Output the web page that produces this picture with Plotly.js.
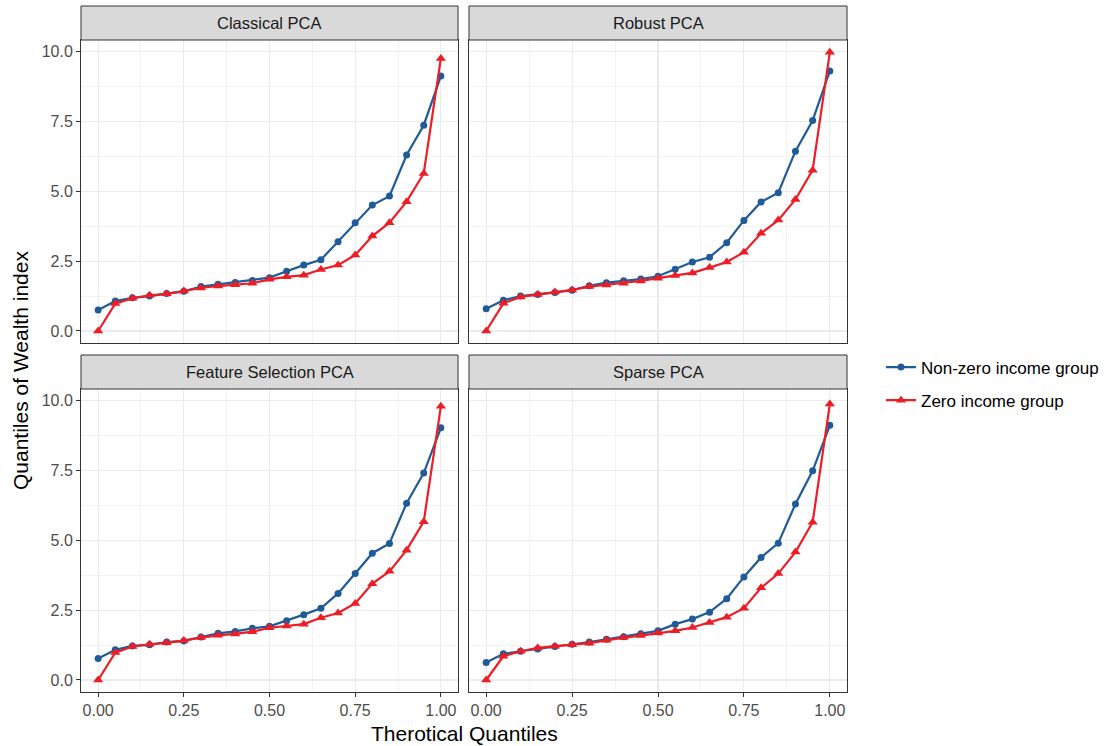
<!DOCTYPE html>
<html>
<head>
<meta charset="utf-8">
<script src="https://cdn.plot.ly/plotly-3.0.1.min.js"></script>
<style>html,body{margin:0;padding:0;background:#fff;}#chart{width:1107px;height:746px;}</style>
</head>
<body>
<div id="chart"></div>
<script>
// ---- data ----
const quantiles = [0,0.05,0.10,0.15,0.20,0.25,0.30,0.35,0.40,0.45,0.50,0.55,0.60,0.65,0.70,0.75,0.80,0.85,0.90,0.95,1.00];
const panelTitles = ["Classical PCA","Robust PCA","Feature Selection PCA","Sparse PCA"];
const seriesNames = ["Non-zero income group","Zero income group"];

const classicalNonZero = [0.75,1.07,1.19,1.25,1.34,1.42,1.59,1.67,1.74,1.81,1.91,2.14,2.36,2.55,3.20,3.88,4.51,4.83,6.30,7.37,9.13];
const classicalZero    = [0.00,0.98,1.17,1.28,1.33,1.43,1.54,1.61,1.66,1.71,1.85,1.94,2.00,2.20,2.36,2.72,3.40,3.88,4.63,5.64,9.76];

const robustNonZero = [0.80,1.10,1.25,1.31,1.38,1.46,1.62,1.73,1.80,1.86,1.96,2.21,2.47,2.64,3.16,3.96,4.62,4.95,6.44,7.54,9.31];
const robustZero    = [0.00,0.99,1.22,1.31,1.40,1.47,1.59,1.65,1.71,1.79,1.89,1.99,2.08,2.27,2.47,2.82,3.50,3.97,4.71,5.76,9.98];

const featureNonZero = [0.77,1.08,1.22,1.26,1.36,1.40,1.54,1.67,1.74,1.85,1.92,2.12,2.34,2.57,3.10,3.81,4.54,4.89,6.33,7.41,9.03];
const featureZero    = [0.00,0.98,1.20,1.28,1.33,1.41,1.52,1.60,1.65,1.73,1.87,1.93,2.00,2.23,2.40,2.74,3.45,3.89,4.65,5.67,9.80];

const sparseNonZero = [0.63,0.94,1.03,1.11,1.20,1.28,1.36,1.46,1.55,1.66,1.76,2.00,2.18,2.43,2.91,3.69,4.39,4.90,6.30,7.49,9.12];
const sparseZero    = [0.00,0.85,1.03,1.15,1.21,1.26,1.32,1.42,1.52,1.59,1.68,1.76,1.88,2.06,2.25,2.57,3.30,3.81,4.58,5.65,9.88];

const xTickVals = [0,0.25,0.5,0.75,1];
const xTickText = ["0.00","0.25","0.50","0.75","1.00"];
const yTickVals = [0,2.5,5,7.5,10];
const yTickText = ["0.0","2.5","5.0","7.5","10.0"];

// ---- styling ----
const BLUE = "#1f5b98";
const RED = "#ee1c25";
const W = 1107, H = 746;
const panels = [
  {nz: classicalNonZero, z: classicalZero, x0: 81, x1: 458, top: 40, bottom: 343},
  {nz: robustNonZero,    z: robustZero,    x0: 469, x1: 847, top: 40, bottom: 343},
  {nz: featureNonZero,   z: featureZero,   x0: 81, x1: 458, top: 389, bottom: 692},
  {nz: sparseNonZero,    z: sparseZero,    x0: 469, x1: 847, top: 389, bottom: 692}
];
const stripH = 34;

const traces = [];
const layout = {
  width: W, height: H,
  margin: {l:0, r:0, t:0, b:0},
  paper_bgcolor: "#fff", plot_bgcolor: "#fff",
  font: {family: "Liberation Sans, Arial, sans-serif", color: "#4d4d4d", size: 16},
  showlegend: true,
  legend: {
    x: 881/W, y: (H-384)/H, xanchor: "left", yanchor: "middle",
    font: {size: 17, color: "#000"}, bgcolor: "rgba(0,0,0,0)",
    traceorder: "grouped", tracegroupgap: 8, itemwidth: 30
  },
  shapes: [], annotations: []
};

panels.forEach((p, i) => {
  const n = i === 0 ? "" : String(i+1);
  const xa = "x" + n, ya = "y" + n;
  traces.push({
    x: quantiles, y: p.nz, xaxis: xa, yaxis: ya, type: "scatter", mode: "lines+markers",
    name: seriesNames[0], legendgroup: "a", showlegend: i === 0,
    line: {color: BLUE, width: 2.2}, marker: {color: BLUE, size: 7, symbol: "circle"}
  });
  traces.push({
    x: quantiles, y: p.z, xaxis: xa, yaxis: ya, type: "scatter", mode: "lines+markers",
    name: seriesNames[1], legendgroup: "b", showlegend: i === 0,
    line: {color: RED, width: 2.2}, marker: {color: RED, size: 9, symbol: "triangle-up"}
  });
  const bottomRow = i >= 2, leftCol = (i % 2) === 0;
  layout["xaxis" + n] = {
    domain: [p.x0/W, p.x1/W], anchor: ya, range: [-0.05, 1.05],
    tickvals: xTickVals, ticktext: xTickText, showticklabels: bottomRow,
    ticks: bottomRow ? "outside" : "", ticklen: 4, tickwidth: 1, tickcolor: "#333",
    tickfont: {size: 16, color: "#4d4d4d"},
    showgrid: true, gridcolor: "#ebebeb", gridwidth: 1.1,
    minor: {tickvals: [0.125,0.375,0.625,0.875], showgrid: true, gridcolor: "#ebebeb", gridwidth: 0.6, ticks: ""},
    zeroline: false, showline: true, mirror: true, linecolor: "#333", linewidth: 1
  };
  layout["yaxis" + n] = {
    domain: [(H-p.bottom)/H, (H-p.top)/H], anchor: xa, range: [-0.43, 10.42],
    tickvals: yTickVals, ticktext: yTickText, showticklabels: leftCol,
    ticks: leftCol ? "outside" : "", ticklen: 4, tickwidth: 1, tickcolor: "#333",
    tickfont: {size: 16, color: "#4d4d4d"},
    showgrid: true, gridcolor: "#ebebeb", gridwidth: 1.1,
    minor: {tickvals: [1.25,3.75,6.25,8.75], showgrid: true, gridcolor: "#ebebeb", gridwidth: 0.6, ticks: ""},
    zeroline: false, showline: true, mirror: true, linecolor: "#333", linewidth: 1
  };
  layout.shapes.push({
    type: "rect", xref: "paper", yref: "paper",
    x0: p.x0/W, x1: p.x1/W, y0: (H-p.top)/H, y1: (H-p.top+stripH)/H,
    fillcolor: "#d9d9d9", line: {color: "#333", width: 1}, layer: "above"
  });
  layout.annotations.push({
    xref: "paper", yref: "paper", x: (p.x0+p.x1)/2/W, y: (H-p.top+stripH/2)/H,
    xanchor: "center", yanchor: "middle", showarrow: false,
    text: panelTitles[i], font: {size: 16.5, color: "#1a1a1a"}
  });
});

layout.annotations.push({
  xref: "paper", yref: "paper", x: 464/W, y: (H-733)/H, xanchor: "center", yanchor: "middle",
  showarrow: false, text: "Therotical Quantiles", font: {size: 21, color: "#000"}
});
layout.annotations.push({
  xref: "paper", yref: "paper", x: 20/W, y: (H-371)/H, xanchor: "center", yanchor: "middle",
  showarrow: false, textangle: -90, text: "Quantiles of Wealth index", font: {size: 21, color: "#000"}
});

Plotly.newPlot("chart", traces, layout, {staticPlot: true, displayModeBar: false});
</script>
</body>
</html>
